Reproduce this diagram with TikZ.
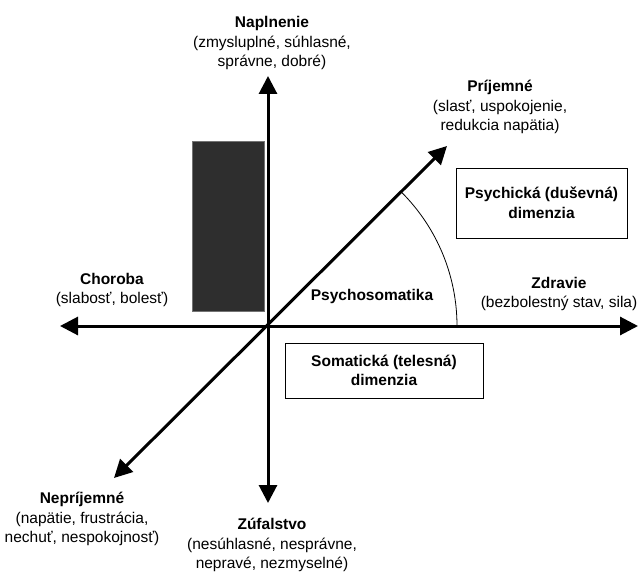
\documentclass[tikz,border=0pt]{standalone}
\usepackage{fontspec}
\setmainfont{Liberation Sans}
\usetikzlibrary{arrows.meta}

\begin{document}
\begin{tikzpicture}[x=1pt, y=-1pt, >={Triangle[length=18pt,width=18pt]},
                  axis/.style={<->, line width=3pt},
                  lbl/.style={align=center, inner sep=0pt,
                    font=\fontsize{15.5}{19.5}\selectfont},
                  dimbox/.style={draw, line width=0.9pt, align=center,
                    font=\bfseries\fontsize{15.5}{19.5}\selectfont}]
                  
                  % Rozmer obrazka.
                  \useasboundingbox (0,0) rectangle (639,575);
                  
                  % Tmavy obdlznik vedla zvislej osi.
                  \fill[black!82, draw=black!55] (192,141) rectangle (264,311);
                  
                  % Body osi.
                  \coordinate (O) at (268,326);
                  \coordinate (W) at (60,326);
                  \coordinate (E) at (638,326);
                  \coordinate (N) at (268,76);
                  \coordinate (S) at (268,503);
                  \coordinate (NE) at (447,146);
                  \coordinate (SW) at (114,478);
                  \coordinate (A) at (457,326);
                  
                  % Osi a oblúk.
                  \draw[axis] (W) -- (E);
                  \draw[axis] (S) -- (N);
                  \draw[axis] (SW) -- (NE);
                  \draw[line width=0.8pt] (A) arc[start angle=0, end angle=-45,
                    radius=189];
                  
                  % Popisy.
                  \node[lbl] (napl) at (272,43) {\textbf{Naplnenie}\\
                    (zmysluplné, súhlasné,\\ správne, dobré)};
                  \node[lbl] (prij) at (500,107) {\textbf{Príjemné}\\
                    (slasť, uspokojenie,\\ redukcia napätia)};
                  \node[lbl] (chor) at (112,290) {\textbf{Choroba}\\
                    (slabosť, bolesť)};
                  \node[lbl] (zdra) at (559,294) {\textbf{Zdravie}\\
                    (bezbolestný stav, sila)};
                  \node[lbl, font=\bfseries\fontsize{15.5}{19.5}\selectfont] (psso)
                    at (372,296) {Psychosomatika};
                  \node[lbl] (nepr) at (82,519) {\textbf{Nepríjemné}\\
                    (napätie, frustrácia,\\ nechuť, nespokojnosť)};
                  \node[lbl] (zufa) at (272,545) {\textbf{Zúfalstvo}\\
                    (nesúhlasné, nesprávne,\\ nepravé, nezmyselné)};
                  
                  % Ramceky dimenzii.
                  \node[dimbox, minimum width=171pt, minimum height=70pt]
                    (psych) at (541.5,203) {Psychická (duševná)\\ dimenzia};
                  \node[dimbox, minimum width=198pt, minimum height=55pt]
                    (soma) at (384,370.5) {Somatická (telesná)\\ dimenzia};
                
                \end{tikzpicture}
\end{document}
